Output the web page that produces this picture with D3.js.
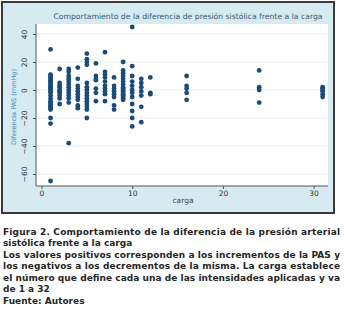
<!DOCTYPE html>
<html>
<head>
<meta charset="utf-8">
<script src="https://cdn.jsdelivr.net/npm/d3@7"></script>
<style>
  body { margin: 0; background: #fff; }
  svg { display: block; }
</style>
</head>
<body>
<div id="chart"></div>
<script>
// carga levels and the PAS differences
const cargaLevels = [1, 2, 3, 4, 5, 6, 7, 8, 9, 10, 11, 12, 16, 24, 31];
const pasDiffs = [
  [29, 11, 10, 9, 8, 7, 6, 5, 4, 3, 2, 1, 0, -1, -2, -4, -6, -8, -9, -10, -11, -12, -13, -14, -20, -24, -65],
  [15, 5, 3, 2, 0, -1, -2, -4, -6, -10],
  [15, 13, 10, 8, 6, 4, 2, 0, -2, -4, -6, -9, -38],
  [16, 8, 3, 1, -1, -3, -5, -7, -11, -13],
  [26, 22, 20, 18, 5, 2, 0, -2, -4, -6, -8, -10, -12, -14, -20],
  [19, 10, 8, 7, 1, -2, -8],
  [27, 13, 11, 9, 6, 3, 1, -1, -3, -8],
  [9, 3, 1, -1, -3, -5, -11, -14],
  [20, 14, 12, 10, 8, 6, 4, 2, 1, 0, -1, -2, -3, -4, -5, -6, -7],
  [45, 17, 10, 6, 3, 0, -2, -5, -10, -15, -20, -26],
  [8, 5, 2, -1, -4, -12, -23],
  [9, -2, -3],
  [10, 3, 1, -2, -7],
  [14, 2, 0, -9],
  [2, 1, 0, -1, -3, -5]
];
const xTicks = [0, 10, 20, 30];
const yTicks = [-60, -40, -20, 0, 20, 40];

const chartTitle = 'Comportamiento de la diferencia de presión sistólica frente a la carga';
const yTitle = 'Diferencia PAS (mmHg)';
const xTitle = 'carga';
const captionLines = [
  { text: 'Figura 2. Comportamiento de la diferencia de la presión arterial', justify: true },
  { text: 'sistólica frente a la carga', justify: false },
  { text: 'Los valores positivos corresponden a los incrementos de la PAS y', justify: true },
  { text: 'los negativos a los decrementos de la misma. La carga establece', justify: true },
  { text: 'el número que define cada una de las intensidades aplicadas y va', justify: true },
  { text: 'de 1 a 32', justify: false },
  { text: 'Fuente: Autores', justify: false }
];

const points = [];
cargaLevels.forEach((c, i) => pasDiffs[i].forEach(v => points.push({ carga: c, pas: v })));

const W = 344, H = 315;
const svg = d3.select('#chart').append('svg').attr('width', W).attr('height', H);

// Stata-like outer graph region
svg.append('rect')
  .attr('x', 2).attr('y', 2).attr('width', 332).attr('height', 211)
  .attr('fill', '#d7eaf1').attr('stroke', '#3a3a3a').attr('stroke-width', 2);

const plot = { left: 36, right: 328, top: 24, bottom: 186 };
svg.append('rect')
  .attr('x', plot.left).attr('y', plot.top)
  .attr('width', plot.right - plot.left).attr('height', plot.bottom - plot.top)
  .attr('fill', '#fff');

const x = d3.scaleLinear().domain([0, 30]).range([41.5, 313.6]);
const y = d3.scaleLinear().domain([-60, 40]).range([174, 34]);

// horizontal grid
svg.append('g').selectAll('line').data(yTicks).join('line')
  .attr('x1', plot.left).attr('x2', plot.right)
  .attr('y1', d => y(d)).attr('y2', d => y(d))
  .attr('stroke', '#e3eff4').attr('stroke-width', 1);

const font = "'DejaVu Sans', Verdana, sans-serif";

// y axis
const yAxis = svg.append('g')
  .attr('transform', `translate(${plot.left},0)`)
  .call(d3.axisLeft(y).tickValues(yTicks).tickSize(3).tickPadding(2).tickSizeOuter(0));
yAxis.select('.domain').attr('d', `M0,${plot.top}V${plot.bottom}`).attr('stroke', '#555');
yAxis.selectAll('.tick line').attr('stroke', '#555');
yAxis.selectAll('.tick text')
  .attr('font-family', font).attr('font-size', 7.5).attr('fill', '#333')
  .attr('x', null).attr('dy', null)
  .attr('text-anchor', 'middle')
  .attr('transform', 'translate(-9,0) rotate(-90)');

// x axis
const xAxis = svg.append('g')
  .attr('transform', `translate(0,${plot.bottom})`)
  .call(d3.axisBottom(x).tickValues(xTicks).tickSize(3).tickPadding(2).tickSizeOuter(0));
xAxis.select('.domain').attr('d', `M${plot.left},0H${plot.right}`).attr('stroke', '#555');
xAxis.selectAll('.tick line').attr('stroke', '#555');
xAxis.selectAll('.tick text')
  .attr('font-family', font).attr('font-size', 7.5).attr('fill', '#333');

// points
svg.append('g').selectAll('circle').data(points).join('circle')
  .attr('cx', d => x(d.carga)).attr('cy', d => y(d.pas))
  .attr('r', 2.4).attr('fill', '#1b4b78');

// titles
svg.append('text')
  .attr('x', 188).attr('y', 19).attr('text-anchor', 'middle')
  .attr('font-family', font).attr('font-size', 7.7).attr('fill', '#355a78')
  .text(chartTitle);

svg.append('text')
  .attr('transform', 'translate(16,107) rotate(-90)').attr('text-anchor', 'middle')
  .attr('font-family', font).attr('font-size', 6.5).attr('fill', '#3d8cc0')
  .text(yTitle);

svg.append('text')
  .attr('x', 183).attr('y', 203).attr('text-anchor', 'middle')
  .attr('font-family', font).attr('font-size', 7.5).attr('fill', '#444')
  .text(xTitle);

// caption below the graph
const cap = svg.append('g');
captionLines.forEach((line, i) => {
  const t = cap.append('text')
    .attr('x', 3).attr('y', 234.5 + i * 11.5)
    .attr('font-family', font).attr('font-size', 9).attr('font-weight', 'bold')
    .attr('fill', '#262626')
    .text(line.text);
  if (line.justify) t.attr('textLength', 337).attr('lengthAdjust', 'spacing');
});
</script>
</body>
</html>
